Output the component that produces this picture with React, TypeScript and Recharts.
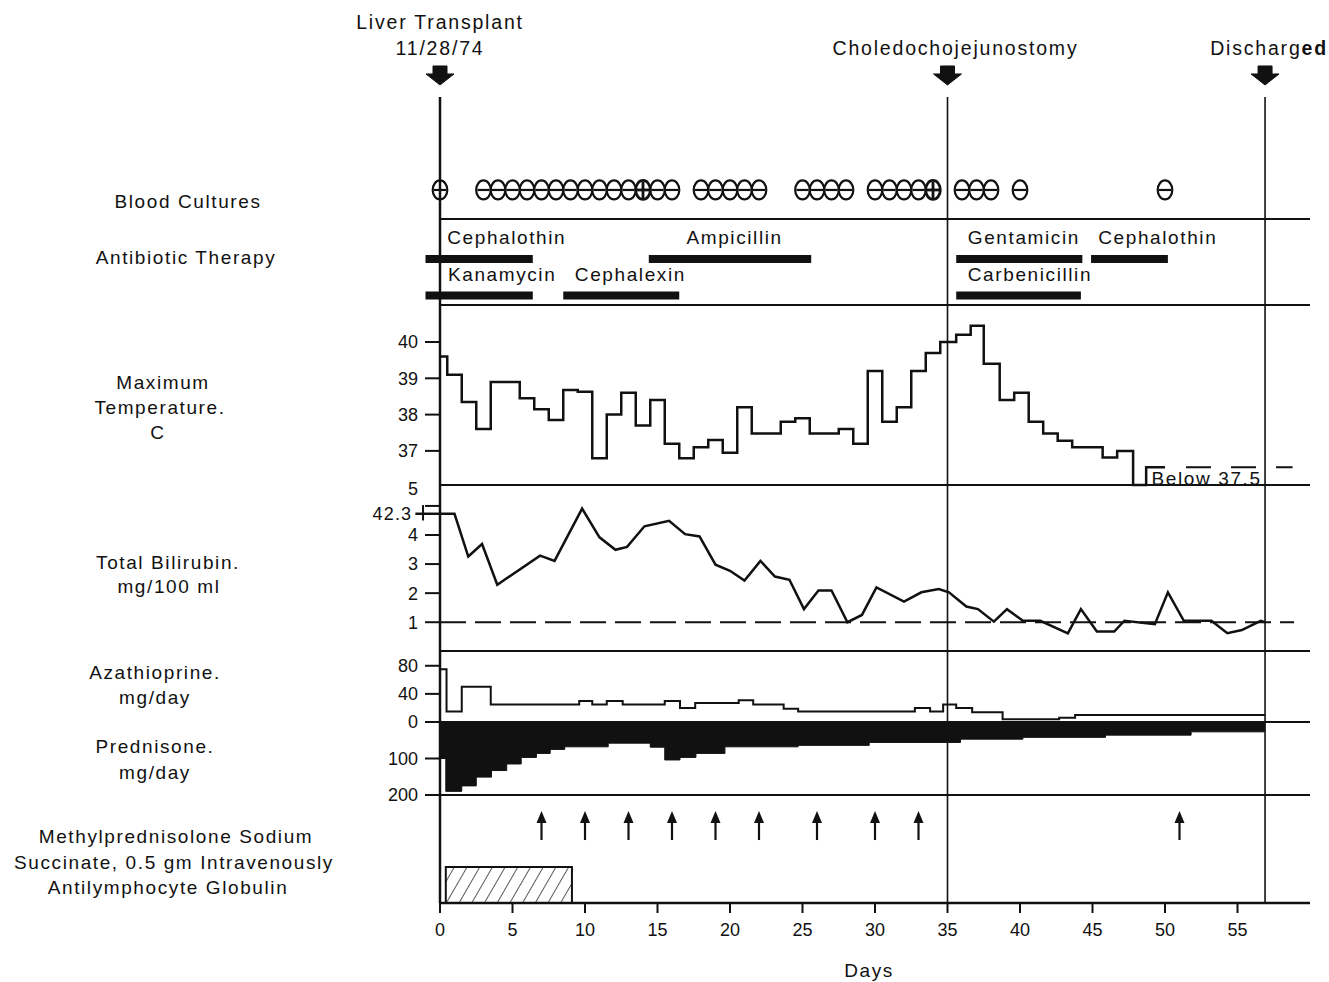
import React from "react";
import {
  ComposedChart, Line, Area, Scatter, XAxis, YAxis,
  ReferenceLine, ReferenceArea, ReferenceDot,
} from "recharts";

const W = 1329;
const H = 982;
const FONT = "'Liberation Sans', Arial, Helvetica, sans-serif";
const INK = "#111";
const SPACING = 1.6;

// x scale: days after transplant
const DAY_MAX = 60;
const dayTicks = [0, 5, 10, 15, 20, 25, 30, 35, 40, 45, 50, 55];
const SURGERY_DAY = 35;
const DISCHARGE_DAY = 56.9;

const events = [
  { day: 0, lines: ["Liver Transplant", "11/28/74"] },
  { day: SURGERY_DAY, lines: ["Choledochojejunostomy"] },
  { day: DISCHARGE_DAY, lines: ["Discharged"] },
];

const negativeCultureDays = [
  0, 3, 4, 5, 6, 7, 8, 9, 10, 11, 12, 13, 15, 16, 18, 19, 20, 21, 22,
  25, 26, 27, 28, 30, 31, 32, 33, 36, 37, 38, 40, 50,
];
const positiveCultureDays = [14, 34];

// row 1 = upper lane, row 2 = lower lane; labelAt = day where the name starts
const therapies = [
  { name: "Cephalothin", row: 1, start: -1, end: 6.4, labelAt: 0.5 },
  { name: "Ampicillin", row: 1, start: 14.4, end: 25.6, labelAt: 17 },
  { name: "Kanamycin", row: 2, start: -1, end: 6.4, labelAt: 0.55 },
  { name: "Cephalexin", row: 2, start: 8.5, end: 16.5, labelAt: 9.3 },
  { name: "Gentamicin", row: 1, start: 35.6, end: 44.3, labelAt: 36.4 },
  { name: "Cephalothin", row: 1, start: 44.9, end: 50.2, labelAt: 45.4 },
  { name: "Carbenicillin", row: 2, start: 35.6, end: 44.2, labelAt: 36.4 },
];

// maximum temperature, step starts [day, C]
const temperature = [
  [0, 39.6], [0.5, 39.1], [1.5, 38.35], [2.5, 37.6], [3.5, 38.9], [5.5, 38.45],
  [6.5, 38.15], [7.5, 37.85], [8.5, 38.68], [9.5, 38.63], [10.5, 36.8], [11.5, 38.0],
  [12.5, 38.6], [13.5, 37.7], [14.5, 38.4], [15.5, 37.2], [16.5, 36.8], [17.5, 37.1],
  [18.5, 37.3], [19.5, 36.95], [20.5, 38.2], [21.5, 37.48], [23.5, 37.8], [24.5, 37.9],
  [25.5, 37.48], [27.5, 37.6], [28.5, 37.2], [29.5, 39.2], [30.5, 37.8], [31.5, 38.2],
  [32.5, 39.2], [33.5, 39.7], [34.5, 40.0], [35.6, 40.2], [36.6, 40.45], [37.5, 39.4],
  [38.6, 38.4], [39.6, 38.6], [40.6, 37.8], [41.6, 37.48], [42.6, 37.28], [43.6, 37.1],
  [45.7, 36.82], [46.7, 37.0], [47.8, 36.06], [48.7, 36.55], [50.0, 36.55],
];
const belowLineDays = [50.0, 58.8];
const BELOW_LEVEL = 36.55;
const tempTicks = [37, 38, 39, 40];

// total bilirubin mg/100 ml
const bilirubin = [
  [0, 4.73], [1, 4.73], [1.95, 3.26], [2.9, 3.69], [3.95, 2.29], [6.9, 3.29],
  [7.9, 3.11], [9.8, 4.91], [11, 3.92], [12.1, 3.49], [12.9, 3.59], [14.1, 4.3],
  [15.8, 4.49], [16.9, 4.03], [17.9, 3.95], [19, 2.98], [20, 2.77], [21, 2.43],
  [22.1, 3.11], [23.1, 2.57], [24.1, 2.46], [25.1, 1.45], [26.1, 2.09], [27, 2.09],
  [28.1, 1.0], [29.1, 1.25], [30.1, 2.2], [32, 1.71], [33.2, 2.03], [34.4, 2.14],
  [35.1, 2.03], [36.3, 1.54], [37.1, 1.45], [38.2, 1.02], [39.1, 1.45], [40.2, 1.05],
  [41.4, 1.05], [43.3, 0.62], [44.2, 1.45], [45.3, 0.68], [46.5, 0.68], [47.2, 1.05],
  [49.3, 0.93], [50.2, 2.03], [51.3, 1.05], [53.2, 1.05], [54.3, 0.62], [55.3, 0.73],
  [56.6, 1.05], [56.9, 1.0],
];
const biliTicks = [1, 2, 3, 4, 5];
const BILI_NORMAL = 1;
const BILI_FIRST_ACTUAL = "42.3";

// azathioprine mg/day, step starts
const azathioprine = [
  [0, 75], [0.45, 15], [1.5, 50], [3.5, 25], [9.6, 30], [10.5, 25], [11.5, 30],
  [12.6, 25], [15.5, 30], [16.55, 20], [17.6, 27], [20.6, 31], [21.6, 25], [23.7, 19],
  [24.7, 15], [32.75, 20], [33.8, 15], [34.7, 25], [35.6, 20], [36.7, 14], [38.8, 4],
  [42.7, 6], [43.8, 10], [56.9, 10],
];
const azaTicks = [0, 40, 80];

// prednisone mg/day, step starts
const prednisone = [
  [0, 100], [0.4, 190], [1.5, 175], [2.5, 151], [3.55, 133], [4.6, 115], [5.6, 97],
  [6.65, 86], [7.6, 75], [8.6, 68], [11.6, 58], [14.5, 69], [15.5, 104], [16.55, 97],
  [17.65, 86], [19.65, 68], [24.7, 64], [29.6, 56], [35.9, 47], [40.2, 42], [45.9, 36],
  [51.8, 27], [56.9, 27],
];
const predTicks = [100, 200];

const methylprednisoloneDays = [7, 10, 13, 16, 19, 22, 26, 30, 33, 51];
const algCourse = [0.4, 9.1];

// ---- layout (pixel rows of each strip) ----
const PLOT_LEFT = 440;
const PLOT_RIGHT = 1310;
const AXIS_W = 50;
const ML = PLOT_LEFT - AXIS_W;
const MR = W - PLOT_RIGHT;

const ROWS = {
  header: [0, 97],
  cultures: [97, 219],
  therapy: [219, 305],
  temp: [305, 485],
  bili: [485, 651],
  aza: [651, 722],
  pred: [722, 795],
  drugs: [795, 903],
};

const CULTURE_LANE = 0.238;
const THERAPY_LANE: Record<number, number> = { 1: 0.535, 2: 0.11 };
const THERAPY_HALF = 0.047;
const EVENT_LANE = 0.124;
const PULSE_LANE = 0.583;

const toPoints = (rows: number[][]) => rows.map(([day, v]) => ({ day, v }));

const leftLabels = [
  { x: 188, y: 201, t: "Blood Cultures" },
  { x: 186, y: 257, t: "Antibiotic Therapy" },
  { x: 163, y: 382, t: "Maximum" },
  { x: 160, y: 407, t: "Temperature." },
  { x: 158, y: 432, t: "C" },
  { x: 168, y: 562, t: "Total Bilirubin." },
  { x: 169, y: 586, t: "mg/100 ml" },
  { x: 155, y: 672, t: "Azathioprine." },
  { x: 155, y: 697, t: "mg/day" },
  { x: 155, y: 746, t: "Prednisone." },
  { x: 155, y: 772, t: "mg/day" },
  { x: 176, y: 836, t: "Methylprednisolone Sodium" },
  { x: 174, y: 862, t: "Succinate, 0.5 gm Intravenously" },
  { x: 168, y: 887, t: "Antilymphocyte Globulin" },
];

const textStyle = { fontFamily: FONT, fontSize: 19, fill: INK, letterSpacing: SPACING };
const headStyle = { fontFamily: FONT, fontSize: 19.5, fill: INK, letterSpacing: 1.8 };
const tickStyle = { fontFamily: FONT, fontSize: 18, fill: INK };

function EventMark({ cx, cy, payload }: any) {
  const lines: string[] = payload.lines;
  const pts = [
    [cx - 7, cy - 19], [cx + 7, cy - 19], [cx + 7, cy - 11], [cx + 14, cy - 11],
    [cx, cy], [cx - 14, cy - 11], [cx - 7, cy - 11],
  ].map((p) => p.join(",")).join(" ");
  return (
    <g>
      <polygon points={pts} fill={INK} stroke={INK} strokeWidth={1} strokeLinejoin="round" />
      {lines.map((t, i) => {
        const y = cy - 30 - (lines.length - 1 - i) * 26;
        if (t === "Discharged") {
          return (
            <text key={i} x={cx + 4} y={y} textAnchor="middle" style={headStyle}>
              Discharg<tspan fontWeight="bold">ed</tspan>
            </text>
          );
        }
        return (
          <text key={i} x={cx + (lines.length === 1 ? 8 : 0)} y={y} textAnchor="middle" style={headStyle}>{t}</text>
        );
      })}
    </g>
  );
}

function CultureMark({ cx, cy, payload }: any) {
  const sw = payload.positive ? 2.8 : 2.2;
  return (
    <g stroke={INK} strokeWidth={sw} fill="none">
      <ellipse cx={cx} cy={cy} rx={7.3} ry={9.5} />
      <line x1={cx - 6} x2={cx + 6} y1={cy} y2={cy} />
      {payload.positive && <line x1={cx} x2={cx} y1={cy - 8} y2={cy + 8} />}
    </g>
  );
}

function TherapyLabel({ cx, cy, payload }: any) {
  return <text x={cx} y={cy - 15} style={textStyle}>{payload.name}</text>;
}

function PulseArrow({ cx, cy }: any) {
  return (
    <g>
      <line x1={cx} x2={cx} y1={cy} y2={cy - 20} stroke={INK} strokeWidth={2.2} />
      <polygon points={`${cx - 5},${cy - 17} ${cx + 5},${cy - 17} ${cx},${cy - 29}`} fill={INK} />
    </g>
  );
}

function BiliTick({ x, y, payload }: any) {
  const lift = payload.value === 5 ? -17 : 0;
  return (
    <text x={x} y={y + lift} dy="0.355em" textAnchor="end" style={tickStyle}>
      {payload.value}
    </text>
  );
}

function hiddenX() {
  return <XAxis type="number" dataKey="day" domain={[0, DAY_MAX]} hide height={0} />;
}

function eventLines() {
  return [SURGERY_DAY, DISCHARGE_DAY].map((d) => (
    <ReferenceLine key={d} x={d} stroke={INK} strokeWidth={1.6} ifOverflow="visible" />
  ));
}

const axisLine = { stroke: INK, strokeWidth: 2.5 };
const tickLine = { stroke: INK, strokeWidth: 2 };

function Strip({ row, extra = 0, children }: { row: number[]; extra?: number; children: any }) {
  const h = row[1] - row[0];
  return (
    <div style={{ position: "absolute", left: 0, top: row[0], width: W, height: h + extra }}>
      <ComposedChart width={W} height={h + extra}
        margin={{ top: 0, bottom: extra > 0 ? extra - 40 : 0, left: ML, right: MR }}>
        {children}
      </ComposedChart>
    </div>
  );
}

export default function App() {
  const cultures = [
    ...negativeCultureDays.map((day) => ({ day, v: CULTURE_LANE, positive: false })),
    ...positiveCultureDays.map((day) => ({ day, v: CULTURE_LANE, positive: true })),
  ];
  const therapyLabels = therapies.map((t) => ({ day: t.labelAt, v: THERAPY_LANE[t.row], name: t.name }));
  const eventPts = events.map((e) => ({ ...e, v: EVENT_LANE }));
  const pulses = methylprednisoloneDays.map((day) => ({ day, v: PULSE_LANE }));
  const belowLine = belowLineDays.map((day) => ({ day, v: BELOW_LEVEL }));

  return (
    <div style={{ position: "absolute", left: 0, top: 0, width: W, height: H, background: "#fff" }}>
      <style>{`.recharts-surface{overflow:visible}`}</style>

      <svg width={W} height={H} style={{ position: "absolute", left: 0, top: 0, pointerEvents: "none" }}>
        <defs>
          <pattern id="hatch" width="11" height="10" patternUnits="userSpaceOnUse" patternTransform="rotate(30)">
            <line x1="0" y1="0" x2="0" y2="10" stroke={INK} strokeWidth="1.4" />
          </pattern>
        </defs>
        {leftLabels.map((l, i) => (
          <text key={i} x={l.x} y={l.y + 7} textAnchor="middle" style={textStyle}>{l.t}</text>
        ))}
        <text x={869} y={977} textAnchor="middle" style={textStyle}>Days</text>
      </svg>

      {/* event header */}
      <Strip row={ROWS.header}>
        {hiddenX()}
        <YAxis width={AXIS_W} domain={[0, 1]} axisLine={false} tickLine={false} tick={false} />
        <Scatter data={eventPts} dataKey="v" shape={(p: any) => <EventMark {...p} />} isAnimationActive={false} />
      </Strip>

      {/* blood cultures */}
      <Strip row={ROWS.cultures}>
        {hiddenX()}
        <YAxis width={AXIS_W} domain={[0, 1]} axisLine={axisLine} tickLine={false} tick={false} />
        {eventLines()}
        <ReferenceLine y={0} stroke={INK} strokeWidth={2} ifOverflow="visible" />
        <Scatter data={cultures} dataKey="v" shape={(p: any) => <CultureMark {...p} />} isAnimationActive={false} />
      </Strip>

      {/* antibiotic therapy */}
      <Strip row={ROWS.therapy}>
        {hiddenX()}
        <YAxis width={AXIS_W} domain={[0, 1]} axisLine={axisLine} tickLine={false} tick={false} />
        {eventLines()}
        <ReferenceLine y={0} stroke={INK} strokeWidth={2} ifOverflow="visible" />
        {therapies.map((t, i) => (
          <ReferenceArea key={i} x1={t.start} x2={t.end}
            y1={THERAPY_LANE[t.row] - THERAPY_HALF} y2={THERAPY_LANE[t.row] + THERAPY_HALF}
            fill={INK} fillOpacity={1} stroke="none" ifOverflow="visible" />
        ))}
        <Scatter data={therapyLabels} dataKey="v" shape={(p: any) => <TherapyLabel {...p} />} isAnimationActive={false} />
      </Strip>

      {/* maximum temperature */}
      <Strip row={ROWS.temp}>
        {hiddenX()}
        <YAxis width={AXIS_W} type="number" domain={[36.06, 41.02]} ticks={tempTicks} interval={0}
          axisLine={axisLine} tickLine={tickLine} tickSize={15} tickMargin={7} tick={tickStyle} />
        {eventLines()}
        <ReferenceLine y={36.06} stroke={INK} strokeWidth={2} ifOverflow="visible" />
        <Line data={toPoints(temperature)} dataKey="v" type="stepAfter" stroke={INK} strokeWidth={2.5}
          dot={false} isAnimationActive={false} />
        <Line data={belowLine} dataKey="v" type="linear" stroke={INK} strokeWidth={2}
          strokeDasharray="0 21 25 20 25 20 25 20" dot={false} isAnimationActive={false} />
        <ReferenceDot x={48.8} y={36.24} r={1} ifOverflow="visible"
          shape={(p: any) => <text x={p.cx + 4} y={p.cy + 6.5} style={textStyle}>Below 37.5</text>} />
      </Strip>

      {/* total bilirubin */}
      <Strip row={ROWS.bili}>
        {hiddenX()}
        <YAxis width={AXIS_W} type="number" domain={[0.01, 5.72]} ticks={biliTicks} interval={0}
          axisLine={axisLine} tickLine={tickLine} tickSize={15} tickMargin={7} tick={<BiliTick />} />
        {eventLines()}
        <ReferenceLine y={0.01} stroke={INK} strokeWidth={2} ifOverflow="visible" />
        <ReferenceLine segment={[{ x: 0, y: BILI_NORMAL }, { x: 58.9, y: BILI_NORMAL }]}
          stroke={INK} strokeWidth={2} strokeDasharray="26 9" ifOverflow="visible" />
        <ReferenceLine segment={[{ x: -1.7, y: 4.73 }, { x: 0, y: 4.73 }]} stroke={INK} strokeWidth={2.5}
          ifOverflow="visible"
          label={{ value: BILI_FIRST_ACTUAL, position: "left", offset: 3, fontSize: 18, fill: INK, fontFamily: FONT, letterSpacing: 1.2 }} />
        <ReferenceLine segment={[{ x: -1.17, y: 4.5 }, { x: -1.17, y: 5.03 }]} stroke={INK} strokeWidth={2}
          ifOverflow="visible" />
        <Line data={toPoints(bilirubin)} dataKey="v" type="linear" stroke={INK} strokeWidth={2.5}
          dot={false} isAnimationActive={false} />
      </Strip>

      {/* azathioprine */}
      <Strip row={ROWS.aza}>
        {hiddenX()}
        <YAxis width={AXIS_W} type="number" domain={[0, 101]} ticks={azaTicks} interval={0}
          axisLine={axisLine} tickLine={tickLine} tickSize={15} tickMargin={7} tick={tickStyle} />
        {eventLines()}
        <ReferenceLine y={0} stroke={INK} strokeWidth={2} ifOverflow="visible" />
        <Line data={toPoints(azathioprine)} dataKey="v" type="stepAfter" stroke={INK} strokeWidth={2}
          dot={false} isAnimationActive={false} />
      </Strip>

      {/* prednisone, drawn downward from zero */}
      <Strip row={ROWS.pred}>
        {hiddenX()}
        <YAxis width={AXIS_W} type="number" domain={[0, 200]} reversed ticks={predTicks} interval={0}
          axisLine={axisLine} tickLine={tickLine} tickSize={15} tickMargin={7} tick={tickStyle} />
        {eventLines()}
        <ReferenceLine y={200} stroke={INK} strokeWidth={2} ifOverflow="visible" />
        <Area data={toPoints(prednisone)} dataKey="v" type="stepAfter" baseValue={0}
          stroke={INK} strokeWidth={1} fill={INK} fillOpacity={1} dot={false} isAnimationActive={false} />
      </Strip>

      {/* methylprednisolone pulses + ALG, with the day axis */}
      <Strip row={ROWS.drugs} extra={79}>
        <XAxis type="number" dataKey="day" domain={[0, DAY_MAX]} ticks={dayTicks} interval={0} height={40}
          axisLine={{ stroke: INK, strokeWidth: 2.5 }} tickLine={tickLine} tickSize={10} tickMargin={10}
          tick={tickStyle} />
        <YAxis width={AXIS_W} domain={[0, 1]} axisLine={axisLine} tickLine={false} tick={false} />
        {eventLines()}
        <ReferenceArea x1={algCourse[0]} x2={algCourse[1]} y1={0} y2={0.333}
          fill="url(#hatch)" fillOpacity={1} stroke={INK} strokeWidth={2} ifOverflow="visible" />
        <Scatter data={pulses} dataKey="v" shape={(p: any) => <PulseArrow {...p} />} isAnimationActive={false} />
      </Strip>
    </div>
  );
}
